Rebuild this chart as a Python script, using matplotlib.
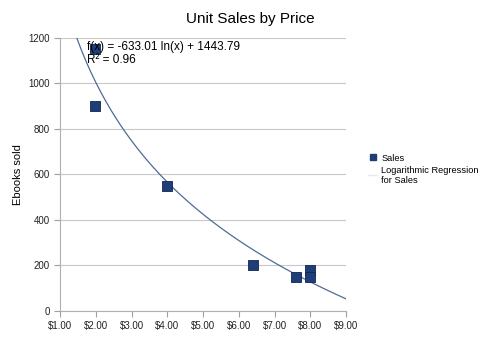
import matplotlib
matplotlib.use("Agg")
import matplotlib.pyplot as plt
import numpy as np
from matplotlib.lines import Line2D

plt.rcParams["font.family"] = ["Liberation Sans", "DejaVu Sans"]

price = [1.99, 1.99, 3.99, 6.39, 7.59, 7.99, 7.99]
sold = [1150, 900, 550, 200, 150, 180, 150]
coef_a = -633.01
coef_b = 1443.79
r2 = 0.96

fig = plt.figure(figsize=(5, 3.42), dpi=100)
ax = fig.add_axes([0.12, 0.091, 0.572, 0.798])

xs = np.linspace(1.0, 9.0, 300)
ax.plot(xs, coef_a * np.log(xs) + coef_b, color="#4f6b98", lw=0.9, zorder=2)
ax.scatter(price, sold, marker="s", s=55, c="#1f3e78", edgecolors="#10264f",
           linewidths=0.6, zorder=3)

ax.set_xlim(1, 9)
ax.set_ylim(0, 1200)
ax.set_xticks(np.arange(1, 10))
ax.set_xticklabels([f"${v:.2f}" for v in range(1, 10)])
ax.set_yticks(range(0, 1201, 200))
ax.yaxis.grid(True, color="#c8c8c8", lw=0.8)
ax.set_axisbelow(True)
for s in ("top", "right"):
    ax.spines[s].set_visible(False)
for s in ("left", "bottom"):
    ax.spines[s].set_color("#b0b0b0")
ax.tick_params(colors="#a0a0a0", labelcolor="#222222", labelsize=7, length=4)
ax.set_ylabel("Ebooks sold", fontsize=8, labelpad=4)

ax.text(1.76, 1132, f"f(x) = {coef_a:.2f} ln(x) + {coef_b:.2f}\nR² = {r2:.2f}",
        fontsize=8.5, va="center", linespacing=1.05)

fig.suptitle("Unit Sales by Price", x=0.5, y=0.965, fontsize=11)

handles = [
    Line2D([], [], marker="s", ls="", color="#1f3e78", markersize=5),
    Line2D([], [], color="#e8e8ee", lw=1),
]
fig.legend(handles, ["Sales", "Logarithmic Regression\nfor Sales"],
           loc="upper left", bbox_to_anchor=(0.72, 0.575), frameon=False,
           fontsize=6.7, handlelength=0.9, handletextpad=0.5, labelspacing=0.3)

fig.savefig("out.png", dpi=100)
